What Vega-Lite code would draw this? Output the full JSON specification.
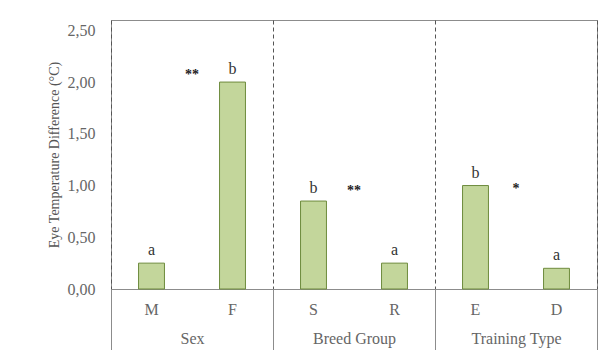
{
  "$schema": "https://vega.github.io/schema/vega-lite/v6.json",
  "width": 486,
  "height": 269,
  "autosize": "none",
  "padding": {"left": 111, "top": 20, "right": 11, "bottom": 61},
  "background": "white",
  "config": {
    "view": {"stroke": "#8c8c8c", "strokeWidth": 1},
    "font": "Times New Roman, Liberation Serif, DejaVu Serif, Noto Serif, serif",
    "text": {"font": "Times New Roman, Liberation Serif, DejaVu Serif, Noto Serif, serif"},
    "axis": {"labelFont": "Times New Roman, Liberation Serif, DejaVu Serif, Noto Serif, serif", "titleFont": "Times New Roman, Liberation Serif, DejaVu Serif, Noto Serif, serif"}
  },
  "layer": [
    {
      "data": {
        "values": [
          {"cat": "M", "group": "Sex", "value": 0.25, "letter": "a"},
          {"cat": "F", "group": "Sex", "value": 2.0, "letter": "b"},
          {"cat": "S", "group": "Breed Group", "value": 0.85, "letter": "b"},
          {"cat": "R", "group": "Breed Group", "value": 0.25, "letter": "a"},
          {"cat": "E", "group": "Training Type", "value": 1.0, "letter": "b"},
          {"cat": "D", "group": "Training Type", "value": 0.2, "letter": "a"}
        ]
      },
      "encoding": {
        "x": {
          "field": "cat",
          "type": "nominal",
          "sort": ["M", "F", "S", "R", "E", "D"],
          "scale": {"paddingInner": 0, "paddingOuter": 0},
          "axis": {
            "title": null,
            "labelAngle": 0,
            "ticks": false,
            "domainColor": "#8c8c8c",
            "labelPadding": 12,
            "labelFontSize": 16,
            "labelColor": "#666666"
          }
        },
        "y": {
          "field": "value",
          "type": "quantitative",
          "scale": {"domain": [0, 2.5]},
          "axis": {
            "title": "Eye Temperature Difference (°C)",
            "values": [0, 0.5, 1, 1.5, 2, 2.5],
            "labelExpr": "replace(format(datum.value, '.2f'), '.', ',')",
            "ticks": false,
            "domain": false,
            "grid": false,
            "labelPadding": 16,
            "labelFontSize": 16,
            "labelColor": "#666666",
            "titleFontSize": 14,
            "titleFontWeight": "normal",
            "titleColor": "#555555",
            "titlePadding": 6
          }
        }
      },
      "layer": [
        {
          "mark": {
            "type": "bar",
            "width": {"band": 0.32},
            "fill": "#c3d69b",
            "stroke": "#6e8b3d",
            "strokeWidth": 1
          }
        },
        {
          "mark": {
            "type": "text",
            "baseline": "alphabetic",
            "dy": -8,
            "fontSize": 16,
            "fill": "#333333"
          },
          "encoding": {"text": {"field": "letter"}}
        }
      ]
    },
    {
      "data": {
        "values": [
          {"group": "Sex", "sig": "**", "pos": 2.11},
          {"group": "Breed Group", "sig": "**", "pos": 0.99},
          {"group": "Training Type", "sig": "*", "pos": 1.01}
        ]
      },
      "mark": {"type": "text", "fontWeight": "bold", "fontSize": 14, "fill": "#222222", "baseline": "middle", "dy": 4},
      "encoding": {
        "x": {
          "field": "group",
          "type": "nominal",
          "sort": ["Sex", "Breed Group", "Training Type"],
          "scale": {"paddingInner": 0, "paddingOuter": 0},
          "axis": {
            "orient": "bottom",
            "title": null,
            "labelAngle": 0,
            "domain": false,
            "tickBand": "extent",
            "tickSize": 61,
            "tickColor": "#8c8c8c",
            "labelPadding": -20,
            "labelFontSize": 16,
            "labelColor": "#666666",
            "grid": true,
            "gridDash": [4, 3],
            "gridColor": "#555555",
            "gridOpacity": 1
          }
        },
        "y": {"field": "pos", "type": "quantitative"},
        "text": {"field": "sig"}
      }
    }
  ],
  "resolve": {"scale": {"x": "independent"}, "axis": {"x": "independent"}}
}
